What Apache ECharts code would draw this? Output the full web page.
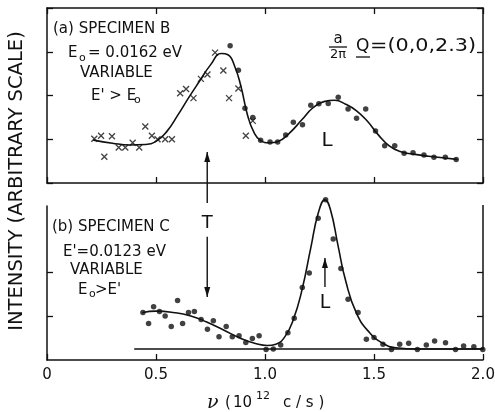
<!DOCTYPE html>
<html><head><meta charset="utf-8">
<script src="https://cdn.jsdelivr.net/npm/echarts@6/dist/echarts.min.js"></script>
<style>html,body{margin:0;padding:0;background:#fff}#c{width:495px;height:412px}</style>
</head><body><div id="c"></div>
<script>
// ---- data ----
const xTickValues = [0, 0.5, 1.0, 1.5, 2.0];
const xTickLabels = ['0', '0.5', '1.0', '1.5', '2.0'];

// (a) Specimen B : crosses
const crossBX = [0.217,0.248,0.298,0.263,0.329,0.359,0.393,0.423,0.451,0.481,0.507,0.542,0.573,0.611,0.638,0.672,0.706,0.736,0.771,0.809,0.835,0.878,0.912,0.944];
const crossBY = [1.01,1.08,1.07,0.60,0.81,0.81,0.92,0.81,1.29,1.08,1.00,1.00,1.00,2.05,2.15,1.94,2.38,2.48,2.98,2.57,1.94,2.16,1.08,1.42];
// (a) Specimen B : dots
const dotBX = [0.840,0.878,0.908,0.944,0.980,1.023,1.058,1.095,1.130,1.172,1.210,1.247,1.290,1.336,1.381,1.420,1.462,1.507,1.549,1.595,1.638,1.679,1.729,1.775,1.827,1.877];
const dotBY = [3.14,2.58,1.71,1.50,0.98,0.94,0.94,1.10,1.39,1.33,1.78,1.81,1.82,1.96,1.69,1.48,1.69,1.19,0.85,0.85,0.68,0.69,0.64,0.59,0.59,0.54];
// (a) fitted curve
const curveBX = [0.214,0.30,0.38,0.45,0.50,0.55,0.60,0.65,0.70,0.75,0.80,0.83,0.86,0.89,0.92,0.95,0.98,1.02,1.06,1.11,1.17,1.22,1.27,1.32,1.37,1.42,1.47,1.52,1.57,1.62,1.68,1.75,1.88];
const curveBY = [0.98,0.91,0.87,0.88,0.95,1.18,1.55,1.95,2.33,2.70,2.96,2.93,2.68,2.20,1.55,1.15,0.97,0.92,0.95,1.13,1.45,1.72,1.86,1.89,1.80,1.65,1.41,1.10,0.85,0.72,0.66,0.61,0.54];

// (b) Specimen C : dots
const dotCX = [0.440,0.466,0.489,0.516,0.542,0.570,0.599,0.622,0.649,0.676,0.707,0.736,0.763,0.789,0.822,0.850,0.881,0.912,0.942,0.973,1.005,1.038,1.072,1.105,1.134,1.171,1.203,1.244,1.278,1.313,1.348,1.381,1.427,1.465,1.500,1.541,1.580,1.618,1.659,1.699,1.740,1.778,1.828,1.874,1.911,1.958,1.999];
const dotCY = [1.08,0.83,1.21,1.10,1.00,0.76,1.35,0.83,1.08,1.10,0.92,0.70,0.89,0.53,0.76,0.53,0.55,0.40,0.49,0.55,0.24,0.25,0.34,0.62,0.95,1.65,1.98,3.22,3.64,2.75,2.08,1.38,1.08,0.47,0.51,0.36,0.24,0.36,0.38,0.24,0.34,0.43,0.39,0.24,0.32,0.30,0.24];
// (b) fitted curve
const curveCX = [0.44,0.50,0.58,0.66,0.73,0.81,0.89,0.96,1.01,1.05,1.09,1.13,1.17,1.21,1.245,1.275,1.30,1.335,1.37,1.42,1.48,1.54,1.60,1.70,2.00];
const curveCY = [1.08,1.11,1.08,1.00,0.87,0.68,0.49,0.37,0.33,0.36,0.52,0.92,1.60,2.55,3.35,3.64,3.42,2.60,1.80,1.06,0.62,0.38,0.28,0.25,0.25];
// (b) background line
const baseCX = [0.40, 2.00];
const baseCY = [0.25, 0.25];

const zip = (a, b) => a.map((v, i) => [v, b[i]]);

// ---- chart ----
const INK = '#111';
const FONT = 'DejaVu Sans';
const lineW = 1.5;

function xAx(grid, pos, labels) {
  return {
    type: 'value', gridIndex: grid, position: pos, min: 0, max: 2, interval: 0.5,
    axisLine: { show: true, onZero: false, lineStyle: { color: INK, width: lineW } },
    axisTick: { show: true, inside: true, length: 6, lineStyle: { color: INK, width: 1.3 } },
    axisLabel: labels ? {
      show: true, color: INK, fontFamily: FONT, fontSize: 15, margin: 8,
      formatter: v => { const i = xTickValues.indexOf(v); return i >= 0 ? xTickLabels[i] : ''; }
    } : { show: false },
    splitLine: { show: false }
  };
}
function yAx(grid, pos, max, showLine, ticks) {
  return {
    type: 'value', gridIndex: grid, position: pos, min: 0, max: max, interval: 1,
    axisLine: { show: showLine, onZero: false, lineStyle: { color: INK, width: lineW } },
    axisTick: Object.assign({ show: true, inside: true, length: 6, lineStyle: { color: INK, width: 1.3 } },
      ticks ? { customValues: ticks } : {}),
    axisLabel: { show: false },
    splitLine: { show: false }
  };
}

const option = {
  animation: false,
  backgroundColor: '#fff',
  grid: [
    { left: 47, right: 12, top: 8, height: 175, containLabel: false, outerBoundsMode: 'none' },
    { left: 47, right: 12, top: 206, height: 154, containLabel: false, outerBoundsMode: 'none' }
  ],
  xAxis: [xAx(0, 'bottom', false), xAx(0, 'top', false), xAx(1, 'bottom', true)],
  yAxis: [yAx(0, 'left', 4, true, null), yAx(0, 'right', 4, true, null),
          yAx(1, 'left', 3.5, true, [1, 2]), yAx(1, 'right', 3.5, false, [1, 2])],
  series: [
    { type: 'line', xAxisIndex: 0, yAxisIndex: 0, data: zip(curveBX, curveBY), showSymbol: false,
      smooth: 0.5, lineStyle: { color: INK, width: 1.6, join: 'round', cap: 'round' }, z: 2 },
    { type: 'scatter', xAxisIndex: 0, yAxisIndex: 0, data: zip(crossBX, crossBY),
      symbol: 'path://M0,0L10,10M10,0L0,10', symbolSize: 6, clip: false,
      itemStyle: { color: 'none', borderColor: INK, borderWidth: 1.3 }, z: 3 },
    { type: 'scatter', xAxisIndex: 0, yAxisIndex: 0, data: zip(dotBX, dotBY),
      symbol: 'circle', symbolSize: 5.5, clip: false, itemStyle: { color: INK }, z: 3 },
    { type: 'line', xAxisIndex: 2, yAxisIndex: 2, data: zip(baseCX, baseCY), showSymbol: false,
      lineStyle: { color: INK, width: 1.5 }, z: 1 },
    { type: 'line', xAxisIndex: 2, yAxisIndex: 2, data: zip(curveCX, curveCY), showSymbol: false, clip: false,
      smooth: 0.5, lineStyle: { color: INK, width: 1.6, join: 'round', cap: 'round' }, z: 2 },
    { type: 'scatter', xAxisIndex: 2, yAxisIndex: 2, data: zip(dotCX, dotCY),
      symbol: 'circle', symbolSize: 5.5, clip: false, itemStyle: { color: INK }, z: 3 }
  ]
};

const chart = echarts.init(document.getElementById('c'), null, { renderer: 'canvas' });
chart.setOption(option);

// ---- annotations ----
const p0 = (x, y) => chart.convertToPixel({ xAxisIndex: 0, yAxisIndex: 0 }, [x, y]);
const p1 = (x, y) => chart.convertToPixel({ xAxisIndex: 2, yAxisIndex: 2 }, [x, y]);

function txt(s, x, cy, size, extra) {
  return Object.assign({
    type: 'text', x: x, y: cy, z: 10,
    style: { text: s, fill: INK, font: size + 'px "' + FONT + '"', textAlign: 'left', textVerticalAlign: 'middle' }
  }, extra ? { scaleX: extra.scaleX || 1 } : {});
}
function ctxt(s, x, cy, size) {
  return { type: 'text', x: x, y: cy, z: 10,
    style: { text: s, fill: INK, font: size + 'px "' + FONT + '"', textAlign: 'center', textVerticalAlign: 'middle' } };
}
function seg(a, b, w) {
  return { type: 'line', z: 10, shape: { x1: a[0], y1: a[1], x2: b[0], y2: b[1] }, style: { stroke: INK, lineWidth: w || 1.4 } };
}
function head(tip, dir) { // dir -1 = up, +1 = down
  return { type: 'polygon', z: 10, shape: { points: [[tip[0], tip[1]], [tip[0] - 3, tip[1] - dir * 10], [tip[0] + 3, tip[1] - dir * 10]] },
    style: { fill: INK } };
}

const g = [];
// right edge of the lower panel, stops at the background line
const rTop = p1(2.0, 3.52), rBot = p1(baseCX[1], baseCY[1]);
g.push(seg(rTop, rBot, lineW));

// T arrows
const xT = 0.735;
const tUpTip = p0(xT, 0.71), tUpTail = p1(xT, 3.57);
g.push(seg(tUpTip, tUpTail), head(tUpTip, -1));
const tDnTail = p1(xT, 2.8), tDnTip = p1(xT, 1.43);
g.push(seg(tDnTail, tDnTip), head(tDnTip, 1));
const tPos = p1(xT, 3.11);
g.push(ctxt('T', tPos[0], tPos[1], 18));

// L arrow (lower panel)
const xL = 1.275;
const lTail = p1(xL, 1.66), lTip = p1(xL, 2.32);
g.push(seg(lTail, lTip), head(lTip, -1));
g.push(ctxt('L', 325, 303, 19));
g.push(ctxt('L', 327, 141, 20));

// panel (a) text
g.push(txt('(a) SPECIMEN B', 53, 29, 15));
g.push(txt('E', 68, 53, 15), txt('o', 79, 58, 11), txt('= 0.0162 eV', 88, 53, 15));
g.push(txt('VARIABLE', 80, 73, 15));
g.push(txt("E' > E", 91, 96, 15), txt('o', 134, 100, 11));

// Q label
g.push(ctxt('a', 338, 39, 15));
g.push(seg([329, 47], [347, 47], 1.3));
g.push(ctxt('2\u03c0', 338, 55, 13));
g.push(txt('Q', 356, 46.5, 17));
g.push(seg([356, 57], [370, 57], 1.3));
g.push(txt('=(0,0,2.3)', 370, 46.5, 17, { scaleX: 1.22 }));

// panel (b) text
g.push(txt('(b) SPECIMEN C', 52, 227, 15));
g.push(txt("E'=0.0123 eV", 63, 252, 15));
g.push(txt('VARIABLE', 70, 270, 15));
g.push(txt('E', 78, 290, 15), txt('o', 89, 294, 11), txt(">E'", 95, 290, 15));

// axis titles
g.push({ type: 'text', x: 17, y: 181, rotation: Math.PI / 2, z: 10,
  style: { text: 'INTENSITY (ARBITRARY SCALE)', fill: INK, font: '19.5px "' + FONT + '"', textAlign: 'center', textVerticalAlign: 'middle' } });
g.push({ type: 'text', x: 207, y: 403, z: 10,
  style: { text: '\u03bd', fill: INK, font: 'italic 19px "DejaVu Serif"', textAlign: 'left', textVerticalAlign: 'middle' } });
g.push(txt('(', 225, 403, 15), txt('10', 233, 403, 15), txt('12', 256, 396, 11), txt('c / s )', 283, 403, 15));

chart.setOption({ graphic: g });
</script>
</body></html>
